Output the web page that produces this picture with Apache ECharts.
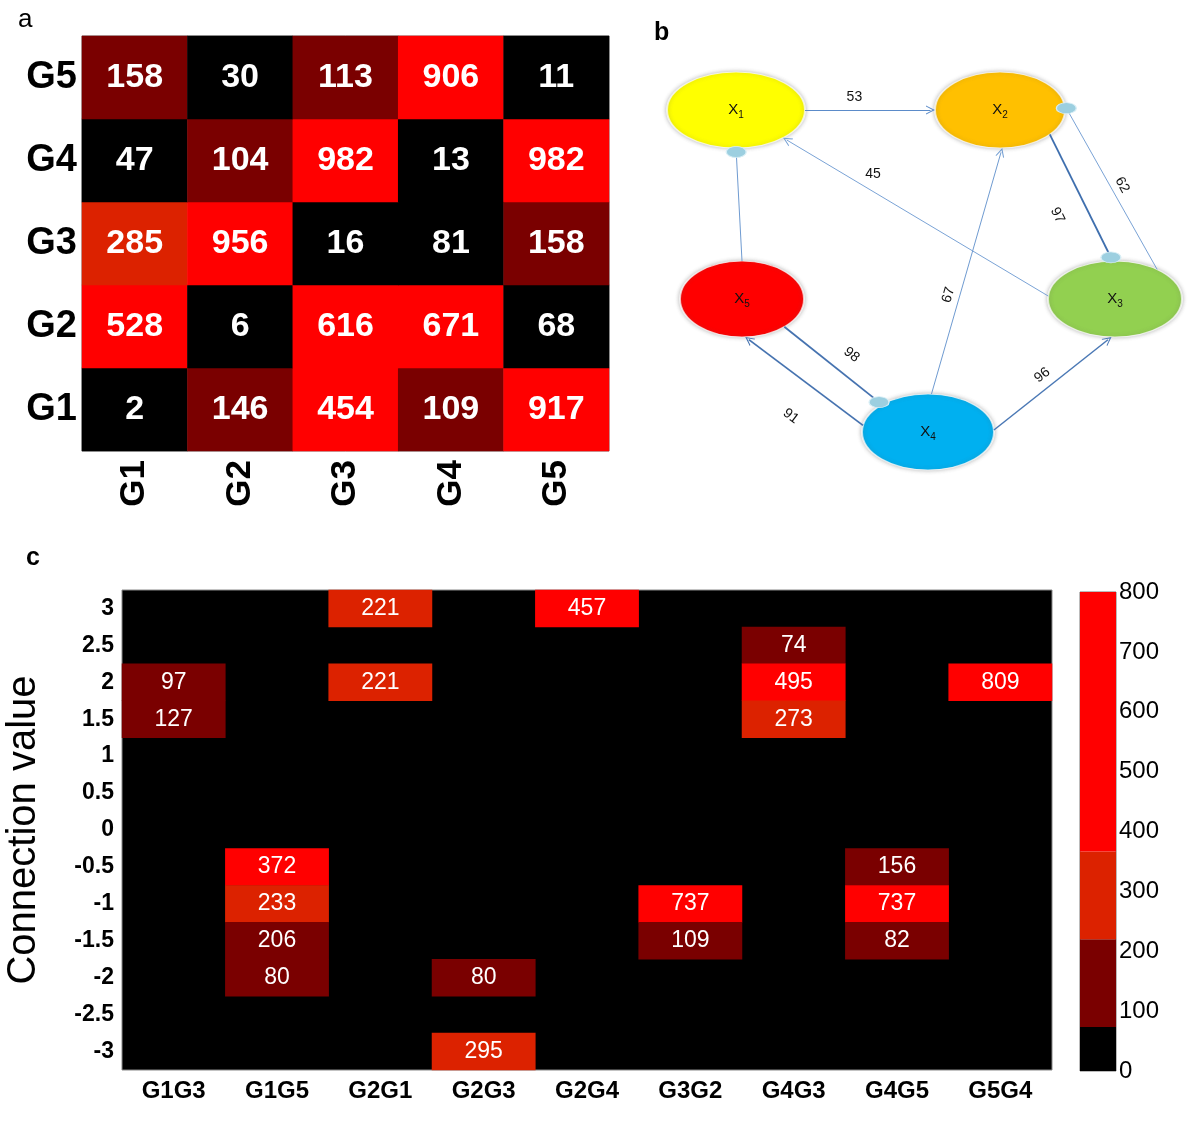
<!DOCTYPE html>
<html><head><meta charset="utf-8">
<script src="https://cdn.jsdelivr.net/npm/echarts@6/dist/echarts.min.js"></script>
<style>html,body{margin:0;padding:0;background:#fff}#chart{width:1200px;height:1132px}</style>
</head><body><div id="chart"></div>
<script>
// ---------- Panel a data ----------
const genes = ['G1', 'G2', 'G3', 'G4', 'G5'];
// rows = y gene (G1..G5), columns = x gene (G1..G5)
const matrixA = [
  [2, 146, 454, 109, 917],   // G1
  [528, 6, 616, 671, 68],    // G2
  [285, 956, 16, 81, 158],   // G3
  [47, 104, 982, 13, 982],   // G4
  [158, 30, 113, 906, 11]    // G5
];
const breaksA = [0, 100, 200, 400, 1000];

// ---------- Panel b data ----------
const nodeNames = ['X1', 'X2', 'X3', 'X4', 'X5'];
const edgeFrom = ['X1', 'X5', 'X3', 'X2', 'X3', 'X4', 'X4', 'X5', 'X4'];
const edgeTo = ['X2', 'X1', 'X1', 'X3', 'X2', 'X2', 'X5', 'X4', 'X3'];
const edgeWeight = [53, null, 45, 97, 62, 67, 91, 98, 96];
const edgeEnd = ['arrow', 'circle', 'arrow', 'circle', 'circle', 'arrow', 'arrow', 'circle', 'arrow'];

// ---------- Panel c data ----------
const pairs = ['G1G3', 'G1G5', 'G2G1', 'G2G3', 'G2G4', 'G3G2', 'G4G3', 'G4G5', 'G5G4'];
const connValues = ['-3', '-2.5', '-2', '-1.5', '-1', '-0.5', '0', '0.5', '1', '1.5', '2', '2.5', '3'];
const cellPair = ['G1G3', 'G1G3', 'G1G5', 'G1G5', 'G1G5', 'G1G5', 'G2G1', 'G2G1', 'G2G3', 'G2G3', 'G2G4', 'G3G2', 'G3G2', 'G4G3', 'G4G3', 'G4G3', 'G4G5', 'G4G5', 'G4G5', 'G5G4'];
const cellConn = ['2', '1.5', '-0.5', '-1', '-1.5', '-2', '3', '2', '-2', '-3', '3', '-1', '-1.5', '2.5', '2', '1.5', '-0.5', '-1', '-1.5', '2'];
const cellCount = [97, 127, 372, 233, 206, 80, 221, 221, 80, 295, 457, 737, 109, 74, 495, 273, 156, 737, 82, 809];
const breaksC = [0, 73.3, 220, 366.7, 800];

// ---------- styles / layout ----------
const levelColors = ['#000000', '#7a0000', '#dc2200', '#ff0000'];
const FONT = 'Liberation Sans, Arial, sans-serif';
const nodeLayout = {
  X1: { x: 736, y: 110, w: 138, h: 76, color: '#ffff00' },
  X2: { x: 1000, y: 110, w: 130, h: 76, color: '#ffc000' },
  X3: { x: 1115, y: 299, w: 134, h: 76, color: '#92d050' },
  X4: { x: 928, y: 432, w: 132, h: 76, color: '#00b0f0' },
  X5: { x: 742, y: 299, w: 124, h: 76, color: '#ff0000' }
};
const edgeAnchor = [[0, 180], [-90, 90], [184.5, 47], [40, -92], [-51, -8], [-87, 88], [190, 87], [47, 226], [-3, 93]];
const edgeLabelPlace = [[0.38, 13, false], [0.5, 0, false], [0.69, -15, false], [0.536, -29, true], [0.48, -11, true], [0.39, 11, true], [0.43, 36, true], [0.56, 20, true], [0.48, 13, true]];
const edgeWidth = [1, 1, 1, 1.8, 1, 1, 1.8, 1.8, 1.5];
const edgeColor = ['#5b8bc9', '#6f9bd1', '#7aa3d6', '#3f6fae', '#7aa3d6', '#6f9bd1', '#4673b0', '#4673b0', '#4a78b5'];

// ---------- build panel a ----------
const heatA = [];
matrixA.forEach((row, yi) => row.forEach((v, xi) => heatA.push([xi, yi, v])));
const piecesOf = (br) => br.slice(0, -1).map((b, i) => ({ gte: b, lt: i === br.length - 2 ? 100000 : br[i + 1], color: levelColors[i] }));

// ---------- build panel c ----------
const heatC = cellCount.map((v, i) => [pairs.indexOf(cellPair[i]), connValues.indexOf(cellConn[i]), v]);

// ---------- build panel b ----------
function onEllipse(name, deg) {
  const n = nodeLayout[name], r = deg * Math.PI / 180;
  return [n.x + n.w / 2 * Math.cos(r), n.y + n.h / 2 * Math.sin(r)];
}
const arrowLines = [], plainLines = [], markers = [], edgeLabels = [];
edgeFrom.forEach((f, i) => {
  const p1 = onEllipse(f, edgeAnchor[i][0]);
  let p2 = onEllipse(edgeTo[i], edgeAnchor[i][1]);
  const dx = p2[0] - p1[0], dy = p2[1] - p1[1], len = Math.hypot(dx, dy);
  const ux = dx / len, uy = dy / len;
  const style = { width: edgeWidth[i], color: edgeColor[i], opacity: 1 };
  if (edgeEnd[i] === 'arrow') {
    const q = [p2[0] - ux * 4.5, p2[1] - uy * 4.5];
    arrowLines.push({ coords: [p1, q], lineStyle: style });
  } else {
    plainLines.push({ coords: [p1, p2], lineStyle: style });
    markers.push([p2[0] - ux * 4, p2[1] - uy * 4]);
  }
  if (edgeWeight[i] != null) {
    const [t, off, along] = edgeLabelPlace[i];
    const nx = uy, ny = -ux;
    let ang = Math.atan2(-dy, dx) * 180 / Math.PI;
    if (ang > 90) ang -= 180;
    if (ang < -90) ang += 180;
    edgeLabels.push({
      value: [p1[0] + dx * t + nx * off, p1[1] + dy * t + ny * off],
      name: String(edgeWeight[i]),
      label: { rotate: along ? ang : 0 }
    });
  }
});
const nodeData = nodeNames.map(n => ({
  name: n,
  value: [nodeLayout[n].x, nodeLayout[n].y],
  symbolSize: [nodeLayout[n].w, nodeLayout[n].h],
  itemStyle: { color: nodeLayout[n].color }
}));

const chart = echarts.init(document.getElementById('chart'), null, { renderer: 'canvas' });
const catAxisBase = { axisLine: { show: false }, axisTick: { show: false }, splitLine: { show: false } };
const gridBase = { containLabel: false, outerBoundsMode: 'none' };

chart.setOption({
  animation: false,
  backgroundColor: '#ffffff',
  textStyle: { fontFamily: FONT },
  graphic: [
    { type: 'text', left: 18, top: 7, style: { text: 'a', font: '26px ' + FONT, fill: '#000' } },
    { type: 'text', left: 654, top: 21, style: { text: 'b', font: 'bold 25px ' + FONT, fill: '#000' } },
    { type: 'text', left: 26, top: 546, style: { text: 'c', font: 'bold 25px ' + FONT, fill: '#000' } }
  ],
  grid: [
    Object.assign({ left: 82, top: 36, width: 527, height: 415, show: true, borderColor: '#777', borderWidth: 1, backgroundColor: 'transparent' }, gridBase),
    Object.assign({ left: 122, top: 590, width: 930, height: 480, show: true, borderColor: '#888', borderWidth: 1, backgroundColor: '#000' }, gridBase),
    Object.assign({ left: 640, top: 0, width: 560, height: 520 }, gridBase),
    Object.assign({ left: 1080, top: 592, width: 36, height: 479, show: true, borderColor: '#777', borderWidth: 1 }, gridBase)
  ],
  xAxis: [
    Object.assign({ type: 'category', gridIndex: 0, data: genes,
      axisLabel: { rotate: 90, fontSize: 35, fontWeight: 'bold', color: '#000', margin: 9 } }, catAxisBase),
    Object.assign({ type: 'category', gridIndex: 1, data: pairs,
      axisLabel: { fontSize: 24, fontWeight: 'bold', color: '#000', margin: 9 } }, catAxisBase),
    { type: 'value', gridIndex: 2, min: 640, max: 1200, show: false },
    { type: 'category', gridIndex: 3, data: [''], show: false }
  ],
  yAxis: [
    Object.assign({ type: 'category', gridIndex: 0, data: genes,
      axisLabel: { fontSize: 38, fontWeight: 'bold', color: '#000', margin: 5 } }, catAxisBase),
    Object.assign({ type: 'category', gridIndex: 1, data: connValues,
      name: 'Connection value', nameLocation: 'middle', nameRotate: 90, nameGap: 78,
      nameTextStyle: { fontSize: 40, color: '#000' },
      axisLabel: { fontSize: 23, fontWeight: 'bold', color: '#000', margin: 8 } }, catAxisBase),
    { type: 'value', gridIndex: 2, min: 0, max: 520, inverse: true, show: false },
    { type: 'value', gridIndex: 3, min: 0, max: 800, interval: 100, position: 'right',
      axisLine: { show: false }, axisTick: { show: false }, splitLine: { show: false },
      axisLabel: { fontSize: 24, color: '#000', margin: 3 } }
  ],
  visualMap: [
    { type: 'piecewise', seriesIndex: 0, show: false, dimension: 2, pieces: piecesOf(breaksA) },
    { type: 'piecewise', seriesIndex: 1, show: false, dimension: 2, pieces: piecesOf(breaksC) }
  ],
  series: [
    { type: 'heatmap', xAxisIndex: 0, yAxisIndex: 0, data: heatA,
      label: { show: true, color: '#fff', fontSize: 34, fontWeight: 'bold' },
      emphasis: { disabled: true } },
    { type: 'heatmap', xAxisIndex: 1, yAxisIndex: 1, data: heatC,
      label: { show: true, color: '#fff', fontSize: 23 },
      emphasis: { disabled: true } },
    ...levelColors.map((c, i) => ({
      type: 'bar', xAxisIndex: 3, yAxisIndex: 3, stack: 'cb', barWidth: '100%', silent: true,
      itemStyle: { color: c }, data: [breaksC[i + 1] - breaksC[i]]
    })),
    { type: 'scatter', xAxisIndex: 2, yAxisIndex: 2, data: nodeData, symbol: 'circle', z: 2, silent: true,
      itemStyle: { opacity: 1, borderColor: 'rgba(255,255,255,0.7)', borderWidth: 1.5, shadowBlur: 4, shadowColor: 'rgba(90,90,90,0.45)' },
      label: { show: true, position: 'inside',
        formatter: p => '{x|X}{s|' + p.name.slice(1) + '}',
        rich: { x: { fontSize: 15, color: '#111', lineHeight: 20, fontFamily: FONT },
                s: { fontSize: 10, color: '#111', verticalAlign: 'bottom', fontFamily: FONT } } } },
    { type: 'lines', coordinateSystem: 'cartesian2d', xAxisIndex: 2, yAxisIndex: 2, z: 3, silent: true,
      symbol: ['none', 'path://M0,10 L5,0 L10,10 L8.8,10 L5,2.6 L1.2,10 Z'], symbolSize: 9,
      data: arrowLines },
    { type: 'lines', coordinateSystem: 'cartesian2d', xAxisIndex: 2, yAxisIndex: 2, z: 3, silent: true,
      symbol: 'none', data: plainLines },
    { type: 'scatter', xAxisIndex: 2, yAxisIndex: 2, z: 4, silent: true, data: markers,
      symbol: 'circle', symbolSize: [20, 11],
      itemStyle: { opacity: 1, color: '#9ccfe0', borderColor: '#d8eef5', borderWidth: 1 } },
    { type: 'scatter', xAxisIndex: 2, yAxisIndex: 2, z: 5, silent: true, data: edgeLabels,
      symbolSize: 0, itemStyle: { opacity: 1 },
      label: { show: true, position: 'inside', formatter: p => p.name, fontSize: 14, color: '#111' } }
  ]
});
</script></body></html>
